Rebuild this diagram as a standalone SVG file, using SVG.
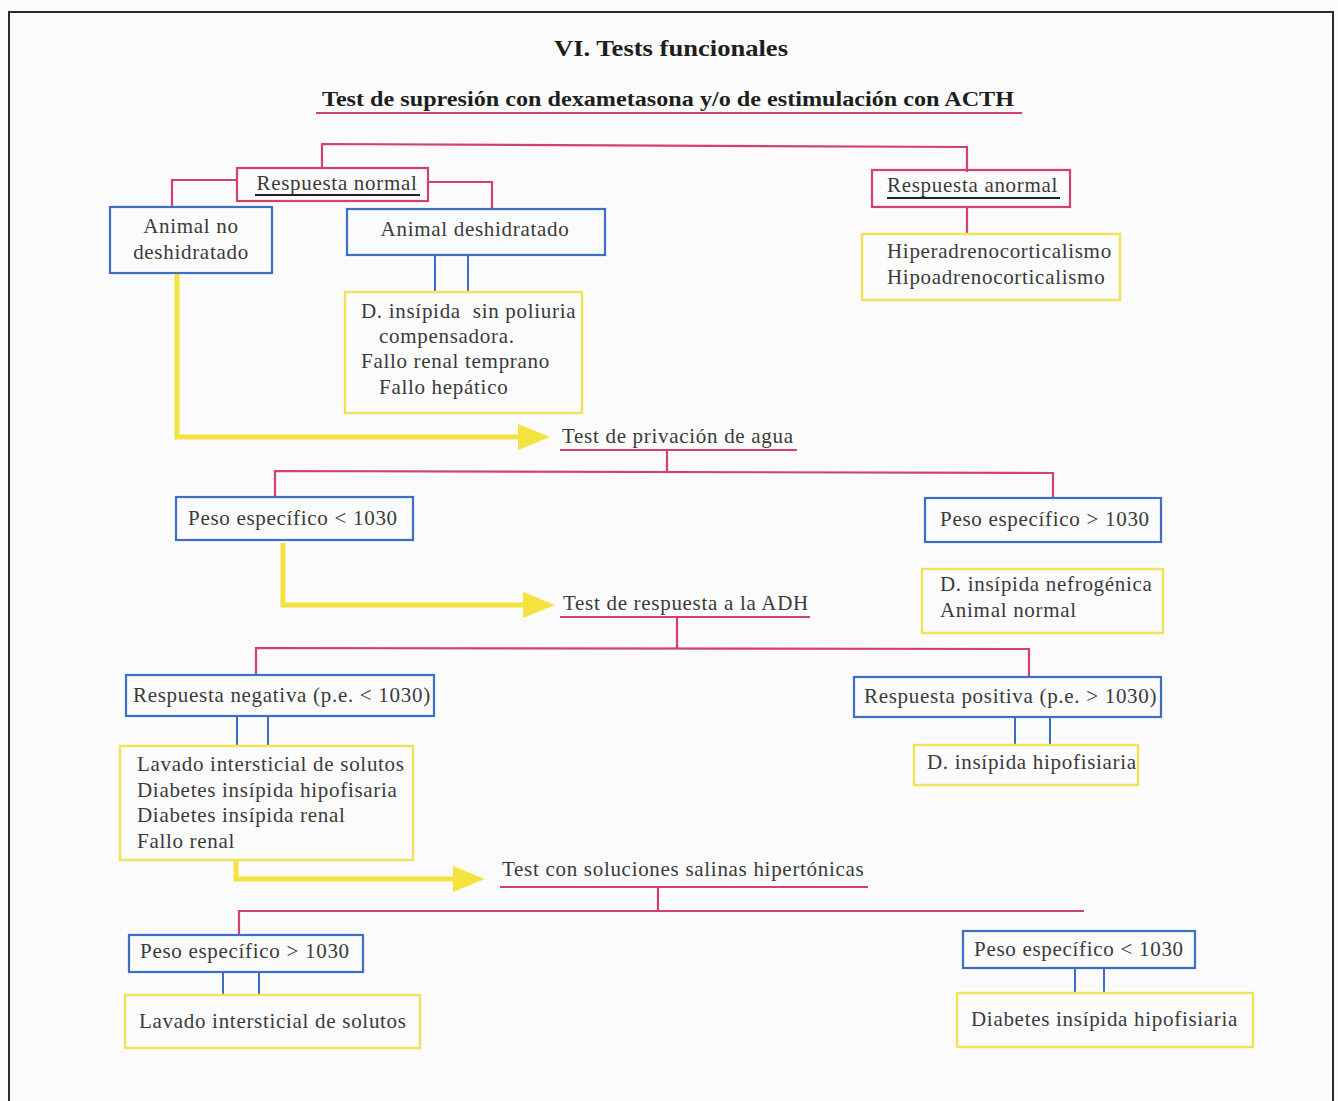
<svg xmlns="http://www.w3.org/2000/svg" width="1338" height="1101" viewBox="0 0 1338 1101">
<defs>
<style>
.t{font-family:"Liberation Serif",serif;font-size:21px;letter-spacing:0.7px;fill:#3a3a3a}
.tb{font-family:"Liberation Serif",serif;font-weight:bold;fill:#1e1e1e}
.pk{fill:none;stroke:#d2416d;stroke-width:2.2}
.bl{fill:none;stroke:#3b6ec4;stroke-width:2.2}
.yl{fill:none;stroke:#f0e25a;stroke-width:2.4}
.pkl{fill:none;stroke:#d2416d;stroke-width:2.2}
.bll{fill:none;stroke:#3b6ec4;stroke-width:2}
.ya{fill:none;stroke:#f4e33e;stroke-width:5}
.ul{stroke:#222;stroke-width:2}
</style>
<marker id="ah" markerUnits="userSpaceOnUse" markerWidth="34" markerHeight="30" refX="2" refY="15" orient="auto">
<polygon points="0,2 32,15 0,28" fill="#f4e33e"/>
</marker>
</defs>
<rect x="0" y="0" width="1338" height="1101" fill="#fbfbfb"/>
<rect x="9" y="12" width="1324" height="1100" fill="none" stroke="#2a2a2a" stroke-width="2"/>

<g id="title">
<text class="tb" x="671" y="56" font-size="24" text-anchor="middle" textLength="234" lengthAdjust="spacingAndGlyphs">VI. Tests funcionales</text>
</g>
<g id="subtitle">
<text class="tb" x="668" y="106" font-size="20" text-anchor="middle" textLength="692" lengthAdjust="spacingAndGlyphs">Test de supresión con dexametasona y/o de estimulación con ACTH</text>
<line x1="316" y1="113" x2="1022" y2="113" class="pkl"/>
</g>

<g id="connectors">
<polyline class="pkl" points="322,168 322,144 967,147 967,172"/>
<polyline class="pkl" points="237,180 172,180 172,207"/>
<polyline class="pkl" points="428,182 492,182 492,209"/>
<line class="pkl" x1="967" y1="207" x2="967" y2="234"/>
<line class="bll" x1="435" y1="255" x2="435" y2="292"/>
<line class="bll" x1="468" y1="255" x2="468" y2="292"/>
<polyline class="ya" points="177,273 177,437 520,437" marker-end="url(#ah)"/>
<line class="pkl" x1="667" y1="450" x2="667" y2="471"/>
<polyline class="pkl" points="275,497 275,471 1053,473 1053,498"/>
<polyline class="ya" points="283,543 283,605 525,605" marker-end="url(#ah)"/>
<line class="pkl" x1="677" y1="617" x2="677" y2="648"/>
<polyline class="pkl" points="256,676 256,648 1029,649 1029,677"/>
<line class="bll" x1="237" y1="716" x2="237" y2="746"/>
<line class="bll" x1="268" y1="716" x2="268" y2="746"/>
<line class="bll" x1="1015" y1="717" x2="1015" y2="745"/>
<line class="bll" x1="1050" y1="717" x2="1050" y2="745"/>
<polyline class="ya" points="236,860 236,879 455,879" marker-end="url(#ah)"/>
<line class="pkl" x1="658" y1="887" x2="658" y2="911"/>
<polyline class="pkl" points="239,935 239,911 1084,911"/>
<line class="bll" x1="223" y1="972" x2="223" y2="995"/>
<line class="bll" x1="259" y1="972" x2="259" y2="995"/>
<line class="bll" x1="1075" y1="968" x2="1075" y2="992"/>
<line class="bll" x1="1104" y1="968" x2="1104" y2="992"/>
</g>

<g id="resp-normal">
<rect class="pk" x="237" y="168" width="191" height="33"/>
<text class="t" x="337" y="190" text-anchor="middle">Respuesta normal</text>
<line class="ul" x1="255" y1="195" x2="420" y2="195"/>
</g>
<g id="resp-anormal">
<rect class="pk" x="872" y="170" width="198" height="37"/>
<text class="t" x="887" y="192">Respuesta anormal</text>
<line class="ul" x1="887" y1="198" x2="1060" y2="198"/>
</g>
<g id="animal-no-desh">
<rect class="bl" x="110" y="207" width="162" height="66"/>
<text class="t" x="191" y="233" text-anchor="middle">Animal no</text>
<text class="t" x="191" y="259" text-anchor="middle">deshidratado</text>
</g>
<g id="animal-desh">
<rect class="bl" x="347" y="209" width="258" height="46"/>
<text class="t" x="475" y="236" text-anchor="middle">Animal deshidratado</text>
</g>
<g id="di-sin-poliuria">
<rect class="yl" x="345" y="292" width="237" height="121"/>
<text class="t" x="361" y="318" xml:space="preserve">D. insípida  sin poliuria</text>
<text class="t" x="379" y="343">compensadora.</text>
<text class="t" x="361" y="368">Fallo renal temprano</text>
<text class="t" x="379" y="394">Fallo hepático</text>
</g>
<g id="hiper-hipo">
<rect class="yl" x="862" y="234" width="258" height="66"/>
<text class="t" x="887" y="258">Hiperadrenocorticalismo</text>
<text class="t" x="887" y="284">Hipoadrenocorticalismo</text>
</g>

<g id="test-privacion">
<text class="t" x="562" y="443">Test de privación de agua</text>
<line class="pkl" x1="560" y1="450" x2="797" y2="450"/>
</g>
<g id="peso-menor-1">
<rect class="bl" x="176" y="497" width="237" height="43"/>
<text class="t" x="188" y="525">Peso específico &lt; 1030</text>
</g>
<g id="peso-mayor-1">
<rect class="bl" x="925" y="498" width="236" height="44"/>
<text class="t" x="940" y="526">Peso específico &gt; 1030</text>
</g>
<g id="di-nefrogenica">
<rect class="yl" x="922" y="569" width="241" height="64"/>
<text class="t" x="940" y="591">D. insípida nefrogénica</text>
<text class="t" x="940" y="617">Animal normal</text>
</g>

<g id="test-adh">
<text class="t" x="563" y="610">Test de respuesta a la ADH</text>
<line class="pkl" x1="560" y1="617" x2="810" y2="617"/>
</g>
<g id="resp-negativa">
<rect class="bl" x="126" y="675" width="308" height="41"/>
<text class="t" x="133" y="702">Respuesta negativa (p.e. &lt; 1030)</text>
</g>
<g id="lista-negativa">
<rect class="yl" x="120" y="746" width="293" height="114"/>
<text class="t" x="137" y="771">Lavado intersticial de solutos</text>
<text class="t" x="137" y="797">Diabetes insípida hipofisaria</text>
<text class="t" x="137" y="822">Diabetes insípida renal</text>
<text class="t" x="137" y="848">Fallo renal</text>
</g>
<g id="resp-positiva">
<rect class="bl" x="854" y="677" width="307" height="40"/>
<text class="t" x="864" y="703">Respuesta positiva (p.e. &gt; 1030)</text>
</g>
<g id="di-hipofisiaria">
<rect class="yl" x="914" y="745" width="224" height="40"/>
<text class="t" x="927" y="769">D. insípida hipofisiaria</text>
</g>

<g id="test-salinas">
<text class="t" x="502" y="876">Test con soluciones salinas hipertónicas</text>
<line class="pkl" x1="500" y1="887" x2="868" y2="887"/>
</g>
<g id="peso-mayor-2">
<rect class="bl" x="129" y="935" width="234" height="37"/>
<text class="t" x="140" y="958">Peso específico &gt; 1030</text>
</g>
<g id="lavado">
<rect class="yl" x="125" y="995" width="295" height="53"/>
<text class="t" x="139" y="1028">Lavado intersticial de solutos</text>
</g>
<g id="peso-menor-2">
<rect class="bl" x="963" y="931" width="232" height="37"/>
<text class="t" x="974" y="956">Peso específico &lt; 1030</text>
</g>
<g id="diabetes-hipofisiaria">
<rect class="yl" x="957" y="993" width="296" height="54"/>
<text class="t" x="971" y="1026">Diabetes insípida hipofisiaria</text>
</g>
</svg>
